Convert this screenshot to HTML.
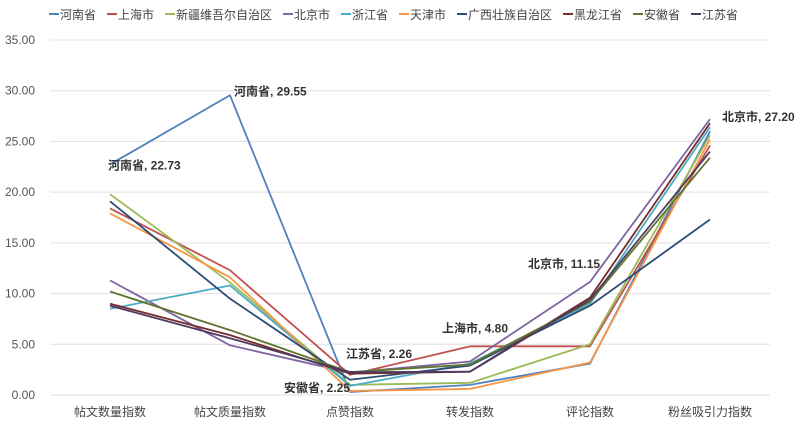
<!DOCTYPE html>
<html><head><meta charset="utf-8"><style>
body{margin:0;background:#fff;}
svg{display:block;font-family:"Liberation Sans","Noto Sans CJK SC",sans-serif;}
</style></head><body>
<svg id="chart" width="800" height="426" viewBox="0 0 800 426">
<rect width="800" height="426" fill="#fff"/>
<g id="grid"></g><g id="lines"></g><g id="legend"></g><g id="labels"></g>
</svg>
<script>
const categories=["帖文数量指数","帖文质量指数","点赞指数","转发指数","评论指数","粉丝吸引力指数"];
const seriesNames=["河南省","上海市","新疆维吾尔自治区","北京市","浙江省","天津市","广西壮族自治区","黑龙江省","安徽省","江苏省"];
const seriesColors=["#4f81bd","#c0504d","#9bbb59","#8064a2","#4bacc6","#f79646","#2c4d75","#772c2a","#5f7530","#4d3b62"];
const henan=[22.73,29.55,0.3,1.0,3.1,26.0];
const shanghai=[18.4,12.3,2.0,4.8,4.8,24.6];
const xinjiang=[19.8,11.1,1.0,1.2,5.0,25.6];
const beijing=[11.3,4.9,2.2,3.3,11.15,27.2];
const zhejiang=[8.5,10.8,0.9,3.1,9.0,26.4];
const tianjin=[17.9,11.6,0.4,0.6,3.2,25.2];
const guangxi=[19.1,9.5,1.5,2.9,8.8,17.3];
const heilongjiang=[9.0,5.9,2.1,2.3,9.6,26.8];
const anhui=[10.2,6.4,2.25,3.0,9.2,23.4];
const jiangsu=[8.8,5.6,2.26,2.3,9.4,24.0];
const seriesValues=[henan,shanghai,xinjiang,beijing,zhejiang,tianjin,guangxi,heilongjiang,anhui,jiangsu];
const yTicks=[0,5,10,15,20,25,30,35];
const annotations=[[0,0,"河南省, 22.73"],[0,1,"河南省, 29.55"],[9,2,"江苏省, 2.26"],[8,2,"安徽省, 2.25"],[1,3,"上海市, 4.80"],[3,4,"北京市, 11.15"],[3,5,"北京市, 27.20"]];
const annOff=[[-2,5],[4,0],[-4,-14],[-66,20],[-28,-14],[-62,-14],[12,2]];
const NS="http://www.w3.org/2000/svg";
const x0=50,x1=770,y0=395,yTop=40;
const xs=i=>x0+(x1-x0)/categories.length*(i+0.5);
const ys=v=>y0-(y0-yTop)*v/35;
function mk(t,a,p){const e=document.createElementNS(NS,t);for(const k in a)e.setAttribute(k,a[k]);p.appendChild(e);return e;}
const grid=document.getElementById('grid');
yTicks.forEach(t=>{
 const l=mk('line',{x1:x0,x2:x1,y1:ys(t),y2:ys(t),stroke:'#e0e0e0','stroke-width':1},grid);
 
 
 const tx=mk('text',{x:35,y:ys(t)+4,'text-anchor':'end','font-size':12,fill:'#555'},grid);
 tx.textContent=t.toFixed(2);
 
 
});
categories.forEach((c,i)=>{
 const tx=mk('text',{x:xs(i),y:416,'text-anchor':'middle','font-size':12,fill:'#444'},grid);
 tx.textContent=c;
 
 
});
const lines=document.getElementById('lines');
seriesValues.forEach((vals,s)=>{
 const p=mk('polyline',{points:vals.map((v,i)=>xs(i)+','+ys(v)).join(' '),fill:'none',stroke:seriesColors[s],'stroke-width':1.8,'stroke-linejoin':'round'},lines);
 
 
});
const leg=document.getElementById('legend');
let lx=49;
seriesNames.forEach((n,s)=>{
 const g=mk('g',{},leg);
 
 
 mk('line',{x1:lx,x2:lx+10,y1:14,y2:14,stroke:seriesColors[s],'stroke-width':2},g);
 const t=mk('text',{x:lx+11,y:19,'font-size':12,fill:'#444'},g);
 t.textContent=n;
 lx+=11+n.length*12+11;
});
const lab=document.getElementById('labels');
annotations.forEach((a,k)=>{
 const [s,i,txt]=a;const o=annOff[k];
 const t=mk('text',{x:xs(i)+o[0],y:ys(seriesValues[s][i])+o[1],'font-size':12,'font-weight':'bold',fill:'#333'},lab);
 t.textContent=txt;
 
 
});
</script>
</body></html>
